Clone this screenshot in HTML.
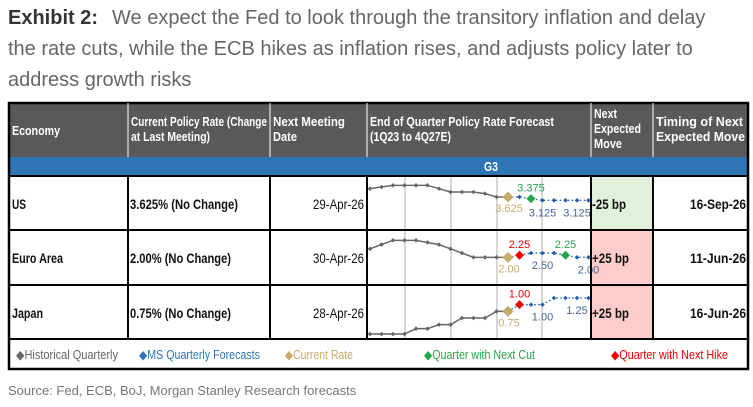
<!DOCTYPE html>
<html><head><meta charset="utf-8"><style>
body{margin:0;background:#fff;}
svg{display:block;font-family:"Liberation Sans",sans-serif;}
.h{font-weight:bold;fill:#fff;font-size:12.5px;}
.c{font-weight:bold;font-size:14px;fill:#111;}
.lg{font-size:12.5px;}
.v{font-size:11px;}
</style></head><body>
<svg id="chart" width="753" height="407">
<g font-size="20">
<text x="8" y="24"><tspan font-weight="bold" fill="#333">Exhibit 2:</tspan><tspan fill="#666" dx="14">We expect the Fed to look through the transitory inflation and delay</tspan></text>
<text x="8" y="55" fill="#666">the rate cuts, while the ECB hikes as inflation rises, and adjusts policy later to</text>
<text x="8" y="86" fill="#666">address growth risks</text>
</g>
<g>
<rect x="9" y="103" width="739" height="54" fill="#595959"/>
<rect x="9" y="157" width="739" height="19" fill="#2e75b6"/>
<text class="h" x="484" y="171" font-size="13" textLength="14" lengthAdjust="spacingAndGlyphs">G3</text>
<text class="h" x="12" y="135" textLength="48" lengthAdjust="spacingAndGlyphs">Economy</text>
<g>
<text class="h" x="131" y="126" textLength="136" lengthAdjust="spacingAndGlyphs">Current Policy Rate (Change</text>
<text class="h" x="131" y="141" textLength="79" lengthAdjust="spacingAndGlyphs">at Last Meeting)</text></g>
<g>
<text class="h" x="273" y="126" textLength="72" lengthAdjust="spacingAndGlyphs">Next Meeting</text>
<text class="h" x="273" y="141" textLength="24" lengthAdjust="spacingAndGlyphs">Date</text></g>
<g>
<text class="h" x="370" y="126" textLength="184" lengthAdjust="spacingAndGlyphs">End of Quarter Policy Rate Forecast</text>
<text class="h" x="370" y="141" textLength="81" lengthAdjust="spacingAndGlyphs">(1Q23 to 4Q27E)</text></g>
<g>
<text class="h" x="594" y="118" textLength="23" lengthAdjust="spacingAndGlyphs">Next</text>
<text class="h" x="594" y="133" textLength="47" lengthAdjust="spacingAndGlyphs">Expected</text>
<text class="h" x="594" y="148" textLength="28" lengthAdjust="spacingAndGlyphs">Move</text></g>
<g>
<text class="h" x="656" y="126" textLength="87" lengthAdjust="spacingAndGlyphs">Timing of Next</text>
<text class="h" x="656" y="141" textLength="89" lengthAdjust="spacingAndGlyphs">Expected Move</text></g>
</g>
<g>
<rect x="591" y="176" width="62" height="54" fill="#e2efda"/>
<rect x="591" y="230" width="62" height="109" fill="#ffcccc"/>
</g>
<g id="rows"></g>
<g id="plots"></g>
<g stroke="#000" fill="none">
<rect x="9" y="103" width="739" height="266" stroke-width="2.5"/>
<line x1="9" y1="176" x2="748" y2="176" stroke-width="2"/>
<line x1="9" y1="230" x2="748" y2="230" stroke-width="2"/>
<line x1="9" y1="285" x2="748" y2="285" stroke-width="2"/>
<line x1="9" y1="339" x2="748" y2="339" stroke-width="2"/>
<line x1="128" y1="103" x2="128" y2="157" stroke="#fff" stroke-width="1"/>
<line x1="270" y1="103" x2="270" y2="157" stroke="#fff"/>
<line x1="367" y1="103" x2="367" y2="157" stroke="#fff"/>
<line x1="591" y1="103" x2="591" y2="157" stroke="#fff"/>
<line x1="653" y1="103" x2="653" y2="157" stroke="#fff"/>
<line x1="128" y1="176" x2="128" y2="339" stroke-width="2"/>
<line x1="270" y1="176" x2="270" y2="339" stroke-width="2"/>
<line x1="367" y1="176" x2="367" y2="339" stroke-width="2"/>
<line x1="591" y1="176" x2="591" y2="339" stroke-width="2"/>
<line x1="653" y1="176" x2="653" y2="339" stroke-width="2"/>
</g>
<g class="lg">
<text x="16" y="359" fill="#666" textLength="102" lengthAdjust="spacingAndGlyphs">◆Historical Quarterly</text>
<text x="139" y="359" fill="#2e75b6" textLength="121" lengthAdjust="spacingAndGlyphs">◆MS Quarterly Forecasts</text>
<text x="285" y="359" fill="#c9a96a" textLength="68" lengthAdjust="spacingAndGlyphs">◆Current Rate</text>
<text x="424" y="359" fill="#22a64a" textLength="111" lengthAdjust="spacingAndGlyphs">◆Quarter with Next Cut</text>
<text x="611" y="359" fill="#e00" textLength="117" lengthAdjust="spacingAndGlyphs">◆Quarter with Next Hike</text>
</g>
<text x="8" y="395" font-size="13" fill="#777">Source: Fed, ECB, BoJ, Morgan Stanley Research forecasts</text>
</svg>
<script>
const economies=["US","Euro Area","Japan"];
const currentRates=["3.625% (No Change)","2.00% (No Change)","0.75% (No Change)"];
const meetingDates=["29-Apr-26","30-Apr-26","28-Apr-26"];
const nextMoves=["-25 bp","+25 bp","+25 bp"];
const timings=["16-Sep-26","11-Jun-26","16-Jun-26"];
const usRates=[4.875,5.125,5.375,5.375,5.375,5.375,4.875,4.375,4.375,4.375,4.125,3.625,3.625,3.625,3.375,3.125,3.125,3.125,3.125,3.125];
const euRates=[3.0,3.5,4.0,4.0,4.0,3.75,3.5,3.0,2.5,2.0,2.0,2.0,2.0,2.25,2.5,2.5,2.5,2.25,2.0,2.0];
const jpRates=[-0.1,-0.1,-0.1,-0.1,0.1,0.1,0.25,0.25,0.5,0.5,0.5,0.75,0.75,1.0,1.0,1.0,1.25,1.25,1.25,1.25];
const currentIdx=[12,12,12];
const cutIdx=[14,17,-1];
const hikeIdx=[-1,13,13];
const labelIdx=[[15,18],[15,19],[15,18]];
const NS="http://www.w3.org/2000/svg";
function mk(tag,attrs,parent){const e=document.createElementNS(NS,tag);for(const k in attrs)e.setAttribute(k,attrs[k]);parent.appendChild(e);return e;}
function fit(t,w){t.setAttribute('textLength',w);t.setAttribute('lengthAdjust','spacingAndGlyphs');}
const rowsG=document.getElementById('rows'),plotsG=document.getElementById('plots');
const rowTop=[176,230,285];
const ecoW=[14,51,31];
const rateW=[108,101,101];
economies.forEach((n,i)=>{
 const cy=rowTop[i]+33;
 let t=mk('text',{x:12,y:cy,class:'c'},rowsG);t.textContent=n;
 fit(t,ecoW[i]);
 
 
 t=mk('text',{x:130,y:cy,class:'c'},rowsG);t.textContent=currentRates[i];
 fit(t,rateW[i]);
 
 
 t=mk('text',{x:313,y:cy,class:'c',style:'font-weight:normal'},rowsG);t.textContent=meetingDates[i];
 fit(t,51);
 
 
 t=mk('text',{x:592,y:cy,class:'c',fill:i==0?'#375623':'#e00','font-size':'15'},rowsG);t.textContent=nextMoves[i];
 fit(t,i==0?34:37);
 
 
 t=mk('text',{x:690,y:cy,class:'c','font-size':'15'},rowsG);t.textContent=timings[i];
 fit(t,56);
 
 
});
const xScale=k=>370+k*11.5;
const yScales=[v=>170+(46+(5.375-v)*20)/3, v=>170+(211+(4-v)*25.5)/3, v=>170+(424+(0.75-v)*80)/3];
const series=[usRates,euRates,jpRates];
[405,451,497,542].forEach(x=>{
 const l=mk('line',{x1:x,y1:177,x2:x,y2:339,stroke:'#bbb','stroke-width':1.2},plotsG);
 
 
});
function diamond(x,y,r,fill,g){return mk('polygon',{points:`${x},${y-r} ${x+r},${y} ${x},${y+r} ${x-r},${y}`,fill:fill},g);}
function label(x,y,txt,fill,g){const t=mk('text',{x:x,y:y,'text-anchor':'middle',fill:fill,class:'v'},g);t.textContent=txt;return t;}
function fmt(v,i){return i==0?v.toFixed(3):v.toFixed(2);}
series.forEach((d,i)=>{
 const ys=yScales[i];const g=mk('g',{},plotsG);
 
 
 const ci=currentIdx[i];
 const hist=d.slice(0,ci+1).map((v,k)=>xScale(k)+','+ys(v)).join(' ');
 mk('polyline',{points:hist,fill:'none',stroke:'#666','stroke-width':1.5},g);
 const fc=d.slice(ci).map((v,k)=>xScale(k+ci)+','+ys(v)).join(' ');
 mk('polyline',{points:fc,fill:'none',stroke:'#1f5ea8','stroke-width':1.3,'stroke-dasharray':'1.5,2.5'},g);
 d.forEach((v,k)=>{
  const x=xScale(k),y=ys(v);
  let p;
  if(k==ci){p=diamond(x,y,5.5,'#c9a96a',g);label(x+1,y+15,fmt(v,i),'#c9a96a',g);}
  else if(k==cutIdx[i]){p=diamond(x,y,4.5,'#22a64a',g);label(x,y-7,fmt(v,i),'#22a64a',g);}
  else if(k==hikeIdx[i]){p=diamond(x,y,4.5,'#e00',g);label(x,y-7,fmt(v,i),'#e00',g);}
  else if(k<ci){p=diamond(x,y,2.3,'#666',g);}
  else {p=diamond(x,y,2.3,'#1f5ea8',g);}
  
  
  if(labelIdx[i].includes(k)){label(x,y+16,fmt(v,i),'#44659a',g);}
 });
});
</script>
</body></html>
